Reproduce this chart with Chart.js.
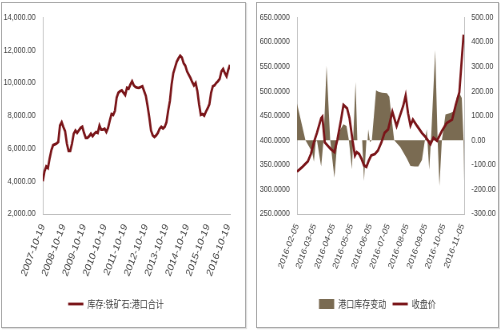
<!DOCTYPE html>
<html>
<head>
<meta charset="utf-8">
<script src="https://cdn.jsdelivr.net/npm/chart.js@4.4.0/dist/chart.umd.min.js"></script>
<style>
    html, body { margin: 0; padding: 0; background: #fff; }
    body { width: 500px; height: 330px; position: relative; overflow: hidden; }
    .panel { position: absolute; border: 1px solid #a9a9a9; box-shadow: 1px 1px 1px rgba(0, 0, 0, 0.12); background: #fff; overflow: hidden; }
    #leftPanel { left: 1px; top: 2px; width: 243px; height: 324px; }
    #rightPanel { left: 256px; top: 2px; width: 241px; height: 324px; }
    /* the source picture is squeezed sideways, so the canvases are drawn wider and scaled down */
    canvas { display: block; transform: scaleX(0.8); transform-origin: 0 0; }
</style>
</head>
<body>
<div class="panel" id="leftPanel"><canvas id="inventoryChart" width="304" height="324"></canvas></div>
<div class="panel" id="rightPanel"><canvas id="priceChart" width="301" height="324"></canvas></div>
<script>
// left: port iron ore inventory, one value per month from 2007-10
const inventory = [
    4000, 4600, 4900, 4800, 5400, 5900, 6200, 6250, 6300, 6400,
    7400, 7600, 7300, 7050, 6300, 5850, 5850, 6300, 6900, 7100,
    6950, 7100, 7250, 7320, 6950, 6650, 6650, 6750, 6900, 6750,
    6900, 7000, 6950, 7400, 7150, 7150, 7200, 7000, 7250, 7700,
    8100, 8050, 8300, 9100, 9400, 9500, 9550, 9400, 9260, 9700,
    9650, 9900, 10100, 9850, 9750, 9720, 9700, 9750, 9800, 9500,
    9200, 8600, 7900, 7100, 6800, 6700, 6800, 6950, 7200, 7320,
    7220, 7320, 7600, 8300, 8900, 9900, 10600, 10950, 11300, 11500,
    11660, 11550, 11200, 11050, 10700, 10500, 10300, 10050, 9850, 10000,
    9500, 8700, 8050, 8100, 8000, 8250, 8450, 8700, 9400, 9800,
    9850, 10000, 10100, 10250, 10700, 10850, 10600, 10400, 10800, 11100
];
const inventoryTickPos = [0, 12, 24, 36, 48, 60, 72, 84, 96, 108];
const inventoryTickLabels = ["2007-10-19", "2008-10-19", "2009-10-19", "2010-10-19", "2011-10-19",
    "2012-10-19", "2013-10-19", "2014-10-19", "2015-10-19", "2016-10-19"];

// right: days counted from 2016-02-05
const priceDays = [0, 9, 18, 23, 28, 33, 40, 42, 46, 51, 56, 62, 67, 73, 77, 83, 87, 92, 96, 99,
    103, 107, 111, 115, 119, 123, 129, 134, 140, 145, 151, 158, 165, 170, 176, 180, 184, 188, 192, 199,
    207, 214, 221, 226, 232, 240, 248, 257, 263, 269, 276];
const priceValues = [336, 346, 357, 372, 396, 415, 445, 448, 396, 389, 382, 376, 402, 442, 472, 465, 445, 400, 369, 376,
    372, 362, 349, 346, 359, 369, 372, 379, 396, 415, 422, 458, 429, 448, 470, 491, 455, 430, 442, 429,
    415, 405, 392, 405, 399, 419, 435, 442, 472, 498, 615];
const changeDays = [0, 14, 22, 25, 28, 31, 33, 40, 44, 49, 55, 62, 67, 72, 77, 82, 86, 91, 93, 97,
    100, 108, 111, 115, 117, 118, 121, 124, 131, 135, 141, 149, 153, 157, 161, 171, 182, 188, 195, 201,
    207, 211, 215, 219, 222, 229, 233, 236, 240, 246, 254, 260, 265, 269, 273, 276, 277];
const changeValues = [150, 0, -34, -47, -87, -8, 0, -107, 0, 303, 0, -153, 0, 45, 65, 58, 0, -118, 0, 237,
    0, 0, -166, 0, 0, 45, -8, 0, 204, 197, 193, 191, 177, 85, 0, -27, -74, -105, -107, -107,
    -80, -14, 45, -120, 0, 367, 0, -186, 0, 105, 111, 118, 177, 191, 172, 0, -170];
const priceTickDays = [0, 29, 60, 90, 121, 151, 182, 213, 243, 274];
const priceTickLabels = ["2016-02-05", "2016-03-05", "2016-04-05", "2016-05-05", "2016-06-05",
    "2016-07-05", "2016-08-05", "2016-09-05", "2016-10-05", "2016-11-05"];

const lineColor = "#7a1519";
const areaColor = "#7a6b52";
const axisColor = "#bfbfbf";
const textColor = "#404040";
const tickFont = { family: "'Liberation Sans', Arial, sans-serif", size: 9 };
const legendFont = { family: "'Noto Sans CJK SC', sans-serif", size: 10 };

function dateAxis(max, tickPos, tickLabels, fontSize) {
    return {
        type: "linear",
        min: 0,
        max: max,
        grid: { display: false, drawTicks: false },
        border: { color: axisColor },
        afterBuildTicks: (axis) => { axis.ticks = tickPos.map((v) => ({ value: v })); },
        afterFit: (axis) => { axis.height = 77; },
        ticks: {
            autoSkip: false,
            minRotation: 65,
            maxRotation: 65,
            padding: 8,
            color: textColor,
            font: { family: "'Liberation Sans', Arial, sans-serif", size: fontSize },
            callback: (v) => tickLabels[tickPos.indexOf(v)]
        }
    };
}

function valueAxis(position, min, max, step, width, digits) {
    return {
        position: position,
        min: min,
        max: max,
        grid: { display: false, drawTicks: false },
        border: { color: axisColor },
        afterFit: (axis) => { axis.width = width; },
        ticks: {
            stepSize: step,
            padding: 9,
            color: textColor,
            font: tickFont,
            callback: (v) => v.toLocaleString("en-US", { minimumFractionDigits: digits, maximumFractionDigits: digits })
        }
    };
}

const legendOptions = {
    position: "bottom",
    labels: {
        usePointStyle: true,
        pointStyleWidth: 19,
        color: textColor,
        font: legendFont,
        padding: 8,
        sort: (a, b) => a.datasetIndex - b.datasetIndex
    }
};

new Chart(document.getElementById("inventoryChart"), {
    type: "line",
    data: {
        datasets: [{
            label: "库存:铁矿石:港口合计",
            data: inventory.map((v, i) => ({ x: i, y: v })),
            borderColor: lineColor,
            backgroundColor: lineColor,
            borderWidth: 2.8,
            pointRadius: 0,
            pointStyle: "line",
            tension: 0
        }]
    },
    options: {
        responsive: false,
        animation: false,
        layout: { padding: { top: 14, right: 19, left: 0, bottom: 8 } },
        plugins: { legend: legendOptions, tooltip: { enabled: false } },
        scales: {
            x: dateAxis(109, inventoryTickPos, inventoryTickLabels, 11),
            y: valueAxis("left", 2000, 14000, 2000, 51, 2)
        }
    }
});

new Chart(document.getElementById("priceChart"), {
    type: "line",
    data: {
        datasets: [{
            label: "港口库存变动",
            data: changeDays.map((d, i) => ({ x: d, y: changeValues[i] })),
            yAxisID: "y1",
            fill: "origin",
            backgroundColor: areaColor,
            borderColor: areaColor,
            borderWidth: 0,
            pointRadius: 0,
            pointStyle: "rect",
            tension: 0,
            order: 1
        }, {
            label: "收盘价",
            data: priceDays.map((d, i) => ({ x: d, y: priceValues[i] })),
            yAxisID: "y",
            borderColor: lineColor,
            backgroundColor: lineColor,
            borderWidth: 2.8,
            pointRadius: 0,
            pointStyle: "line",
            tension: 0,
            order: 0
        }]
    },
    options: {
        responsive: false,
        animation: false,
        layout: { padding: { top: 12, right: 0, left: 0, bottom: 8 } },
        plugins: { legend: legendOptions, tooltip: { enabled: false } },
        scales: {
            x: dateAxis(277, priceTickDays, priceTickLabels, 9.5),
            y: valueAxis("left", 250, 650, 50, 50, 4),
            y1: valueAxis("right", -300, 500, 100, 42, 2)
        }
    }
});
</script>
</body>
</html>
